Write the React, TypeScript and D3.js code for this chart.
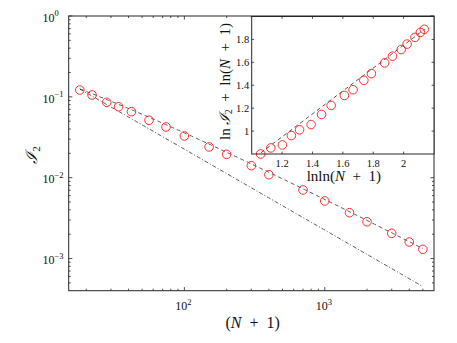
import React from "react";
import * as d3 from "d3";

// ---- data ----
const nPlus1 = [18, 22, 28, 34, 42, 56, 74, 100, 150, 200, 300, 400, 700, 1000, 1500, 2000, 3000, 4000, 5000];
const i2Values = [0.1215, 0.1054, 0.0856, 0.0755, 0.0655, 0.0513, 0.0424, 0.0328, 0.024, 0.01946, 0.01407, 0.01088, 0.00705, 0.00515, 0.00369, 0.00285, 0.00205, 0.0016, 0.0013];
const insetLnLn = [1.059, 1.126, 1.202, 1.261, 1.315, 1.391, 1.46, 1.523, 1.61, 1.667, 1.738, 1.788, 1.875, 1.927, 1.984, 2.023, 2.075, 2.11, 2.136];
const insetLnSum = [0.8, 0.853, 0.879, 0.961, 1.011, 1.057, 1.145, 1.224, 1.311, 1.361, 1.443, 1.502, 1.595, 1.654, 1.712, 1.759, 1.818, 1.861, 1.888];

const xMajorExps = [2, 3];
const yMajorExps = [0, -1, -2, -3];
const insetXTicks = [1.2, 1.4, 1.6, 1.8, 2];
const insetYTicks = [1, 1.2, 1.4, 1.6, 1.8];

// fitted guide lines
const fitSlope = 1.0; // inset: y = slope * x + intercept
const fitIntercept = -0.25;
const dashDotConst = 2.25; // I2 = c / (N+1)
const fitRange = [18, 5000];

const W = 457;
const H = 343;
const FONT = '"Liberation Serif", "Times New Roman", serif';
const AXIS = "#262626";
const RED = "#ff1a1a";

export default function App() {
  const x = d3.scaleLog().domain([15, 6000]).range([68.7, 434]);
  const y = d3.scaleLog().domain([4e-4, 1]).range([290.7, 16]);
  const ix = d3.scaleLinear().domain([1.0, 2.2]).range([251.7, 434]);
  const iy = d3.scaleLinear().domain([0.8, 2.0]).range([154, 16.5]);

  const [L, R] = x.range();
  const [B, T] = y.range();
  const [iL, iR] = ix.range();
  const [iB, iT] = iy.range();

  const samples = d3.range(0, 201).map((k) => Math.exp(Math.log(fitRange[0]) + (k / 200) * (Math.log(fitRange[1]) - Math.log(fitRange[0]))));
  const lineGen = d3.line<[number, number]>().x((d) => x(d[0])).y((d) => y(d[1]));
  const dashedPath = lineGen(samples.map((n) => [n, Math.exp(fitIntercept) * Math.pow(Math.log(n), fitSlope) / n]))!;
  const dashDotPath = lineGen(samples.map((n) => [n, dashDotConst / n]))!;

  const insetLine = d3.line<number>().x((v) => ix(v)).y((v) => iy(fitSlope * v + fitIntercept));
  const insetPath = insetLine([Math.log(Math.log(fitRange[0])), Math.log(Math.log(fitRange[1]))])!;

  const xMinor: number[] = [];
  [10, 100, 1000].forEach((d) => {
    for (let m = 2; m <= 9; m++) {
      const v = d * m;
      if (v > 15 && v < 6000) xMinor.push(v);
    }
  });
  const yMinor: number[] = [];
  [1e-4, 1e-3, 1e-2, 1e-1].forEach((d) => {
    for (let m = 2; m <= 9; m++) {
      const v = d * m;
      if (v > 4e-4 && v < 1) yMinor.push(v);
    }
  });
  const MAJ = 3.6;
  const MIN = 2;
  const ITK = 2.4;
  const txt = { fontFamily: FONT };

  return (
    <svg width={W} height={H} style={{ position: "absolute", left: 0, top: 0, background: "#fff", fontFamily: FONT }}>
      <rect x={0} y={0} width={W} height={H} fill="#fff" />
      <path d={dashDotPath} fill="none" stroke="#111" strokeWidth={0.7} strokeDasharray="4 2 1 2" />
      <path d={dashedPath} fill="none" stroke="#111" strokeWidth={0.7} strokeDasharray="4 3" />
      {nPlus1.map((n, k) => (
        <circle key={k} cx={x(n)} cy={y(i2Values[k])} r={4.3} fill="none" stroke={RED} strokeWidth={0.9} />
      ))}
      <rect x={L} y={T} width={R - L} height={B - T} fill="none" stroke={AXIS} strokeWidth={1} />
      {xMajorExps.map((e) => {
        const px = x(Math.pow(10, e));
        return (
          <g key={"xM" + e}>
            <line x1={px} x2={px} y1={B} y2={B - MAJ} stroke={AXIS} strokeWidth={0.8} />
            <line x1={px} x2={px} y1={T} y2={T + MAJ} stroke={AXIS} strokeWidth={0.8} />
            <text x={px - 1} y={310} fontSize={12} textAnchor="middle" fill="#111" style={txt}>
              10<tspan fontSize={8.5} dy={-5.5}>{e}</tspan>
            </text>
          </g>
        );
      })}
      {xMinor.map((v) => (
        <g key={"xm" + v}>
          <line x1={x(v)} x2={x(v)} y1={B} y2={B - MIN} stroke={AXIS} strokeWidth={0.8} />
          <line x1={x(v)} x2={x(v)} y1={T} y2={T + MIN} stroke={AXIS} strokeWidth={0.8} />
        </g>
      ))}
      {yMajorExps.map((e) => {
        const py = y(Math.pow(10, e));
        return (
          <g key={"yM" + e}>
            <line x1={L} x2={L + MAJ} y1={py} y2={py} stroke={AXIS} strokeWidth={0.8} />
            <line x1={R} x2={R - MAJ} y1={py} y2={py} stroke={AXIS} strokeWidth={0.8} />
            <text x={42.5} y={py + 5.7} fontSize={12} fill="#111" style={txt}>
              10<tspan fontSize={8.5} dy={-5.5}>{e < 0 ? "\u2212" + -e : e}</tspan>
            </text>
          </g>
        );
      })}
      {yMinor.map((v) => (
        <g key={"ym" + v}>
          <line x1={L} x2={L + MIN} y1={y(v)} y2={y(v)} stroke={AXIS} strokeWidth={0.8} />
          <line x1={R} x2={R - MIN} y1={y(v)} y2={y(v)} stroke={AXIS} strokeWidth={0.8} />
        </g>
      ))}
      <text x={252.7} y={328} fontSize={16} textAnchor="middle" fill="#111" style={txt}>
        (<tspan fontStyle="italic">N</tspan>{"\u2002+\u20021)"}
      </text>
      <text transform="translate(36.5,155) rotate(-90)" fontSize={16} textAnchor="middle" fill="#111" style={txt}>
        <tspan fontStyle="italic">ℐ</tspan>
        <tspan fontSize={11} dy={3}>2</tspan>
      </text>

      {/* inset */}
      <rect x={iL} y={iT} width={iR - iL} height={iB - iT} fill="#fff" />
      <path d={insetPath} fill="none" stroke="#111" strokeWidth={0.7} strokeDasharray="4 3" />
      {insetLnLn.map((v, k) => (
        <circle key={"ic" + k} cx={ix(v)} cy={iy(insetLnSum[k])} r={4.3} fill="none" stroke={RED} strokeWidth={0.9} />
      ))}
      <rect x={iL} y={iT} width={iR - iL} height={iB - iT} fill="none" stroke={AXIS} strokeWidth={1} />
      {insetXTicks.map((v) => (
        <g key={"ixt" + v}>
          <line x1={ix(v)} x2={ix(v)} y1={iB} y2={iB - ITK} stroke={AXIS} strokeWidth={0.8} />
          <line x1={ix(v)} x2={ix(v)} y1={iT} y2={iT + ITK} stroke={AXIS} strokeWidth={0.8} />
          <text x={ix(v)} y={167} fontSize={10.5} textAnchor="middle" fill="#111" style={txt}>
            {String(v)}
          </text>
        </g>
      ))}
      {insetYTicks.map((v) => (
        <g key={"iyt" + v}>
          <line x1={iL} x2={iL + ITK} y1={iy(v)} y2={iy(v)} stroke={AXIS} strokeWidth={0.8} />
          <line x1={iR} x2={iR - ITK} y1={iy(v)} y2={iy(v)} stroke={AXIS} strokeWidth={0.8} />
          <text x={iL - 2.5} y={iy(v) + 3.6} fontSize={10.5} textAnchor="end" fill="#111" style={txt}>
            {String(v)}
          </text>
        </g>
      ))}
      <text x={343.8} y={181} fontSize={15} textAnchor="middle" fill="#111" style={txt}>
        lnln(<tspan fontStyle="italic">N</tspan>{"\u2002+\u20021)"}
      </text>
      <text transform="translate(229.5,81.5) rotate(-90)" fontSize={15} textAnchor="middle" fill="#111" style={txt}>
        {"ln\u2009"}<tspan fontStyle="italic">ℐ</tspan><tspan fontSize={10} dy={2.5}>2</tspan><tspan dy={-2.5}>{"\u2002+\u2002ln("}</tspan><tspan fontStyle="italic">N</tspan>{"\u2002+\u20021)"}
      </text>
    </svg>
  );
}
